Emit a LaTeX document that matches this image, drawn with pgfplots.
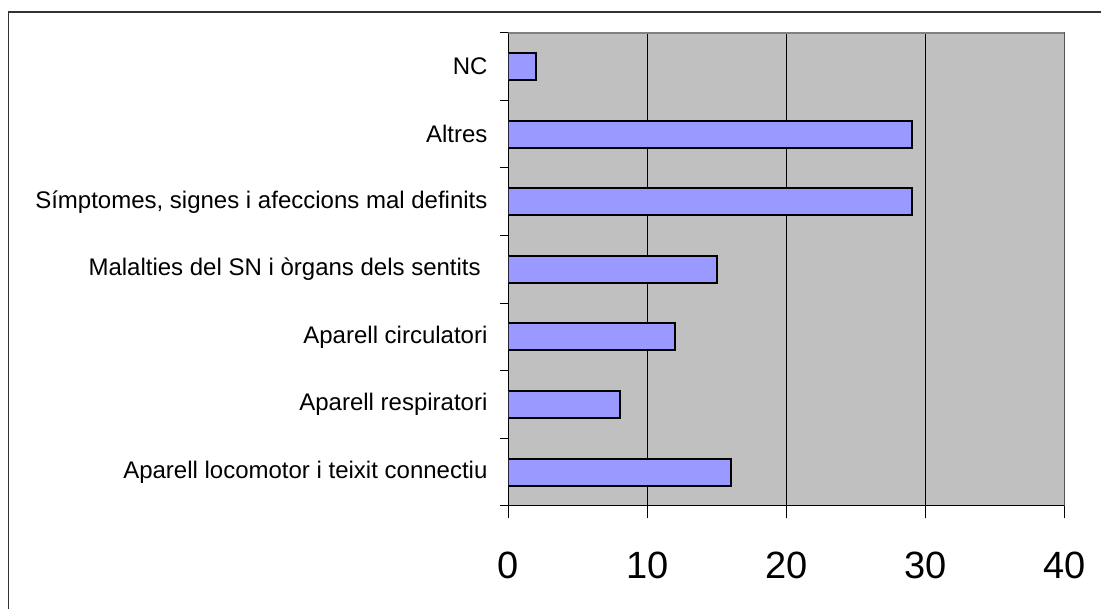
\documentclass[border=0pt]{standalone}
\usepackage{pgfplots}
\pgfplotsset{compat=1.18}
\usepackage{fontspec}
\setmainfont{Liberation Sans}
\definecolor{plotbg}{HTML}{C0C0C0}
\definecolor{barfill}{HTML}{9999FF}
\definecolor{framegray}{HTML}{808080}
\begin{document}
\begin{tikzpicture}[x=1pt,y=1pt]
\useasboundingbox (0,0) rectangle (1101,609);
\draw[line width=1.3pt, color=black!80] (8.5,-10) -- (8.5,597) -- (1120,597);
\begin{axis}[
  at={(508.5pt,103pt)}, anchor=south west,
  scale only axis, width=556pt, height=473.3pt,
  xmin=0, xmax=40, ymin=-0.5, ymax=6.5,
  axis background/.style={fill=plotbg},
  axis line style={black, line width=1pt},
  xmajorgrids, major grid style={black, line width=0.8pt},
  xtick={0,10,20,30,40},
  ytick={0,1,2,3,4,5,6},
  yticklabels={Aparell locomotor i teixit connectiu, Aparell respiratori, Aparell circulatori, Malalties del SN i òrgans dels sentits\hspace*{0.28em}, {Símptomes, signes i afeccions mal definits}, Altres, NC},
  minor ytick={-0.5,0.5,1.5,2.5,3.5,4.5,5.5,6.5},
  tick align=outside, xtick pos=bottom, ytick pos=left,
  major tick length=12.5pt, minor tick length=8.5pt,
  major y tick style={draw=none},
  minor y tick style={black, line width=1pt},
  major x tick style={black, line width=1pt},
  /pgf/number format/assume math mode=true,
  xticklabel style={font=\fontsize{38}{40}\selectfont, yshift=-30pt},
  yticklabel style={font=\fontsize{24}{26}\selectfont, xshift=-5pt},
]
\addplot[xbar, fill=barfill, draw=black, line width=2pt, bar width=27pt]
  coordinates {(16,0) (8,1) (12,2) (15,3) (29,4) (29,5) (2,6)};
\draw[framegray, line width=2pt] (rel axis cs:0,1) -- (rel axis cs:1,1) -- (rel axis cs:1,0);
\end{axis}
\end{tikzpicture}
\end{document}
